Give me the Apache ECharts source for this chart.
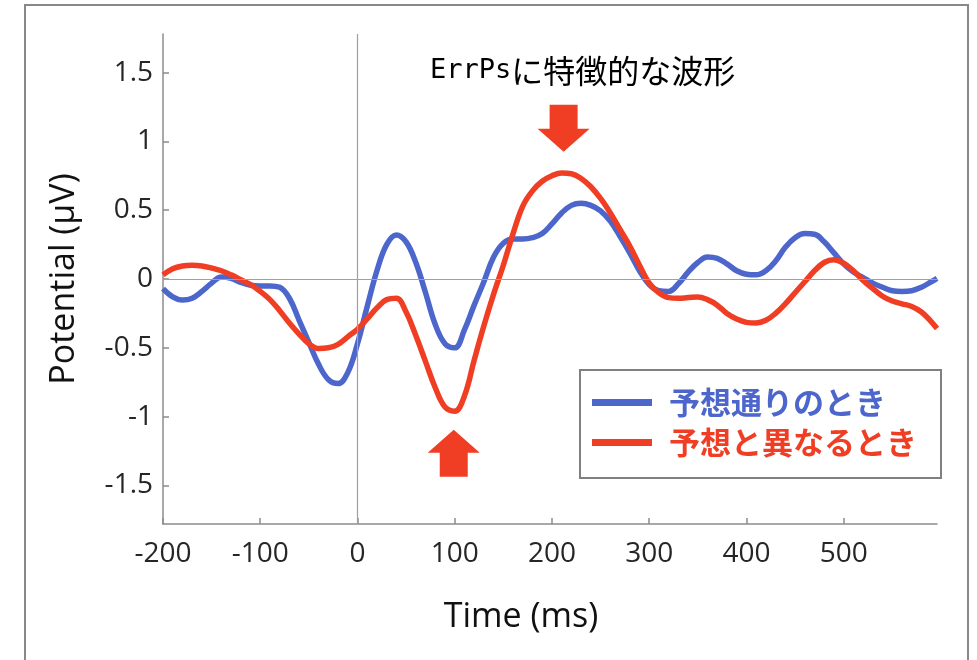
<!DOCTYPE html>
<html>
<head>
<meta charset="utf-8">
<script src="https://cdn.jsdelivr.net/npm/echarts@6/dist/echarts.min.js"></script>
<style>
html,body{margin:0;padding:0;background:#fff;}
#chart{width:977px;height:660px;}
</style>
</head>
<body>
<div id="chart"></div>
<script>
// ---- data ----
const timeMs = [-200,-190,-180,-170,-160,-150,-140,-130,-120,-110,-100,-90,-80,-70,-60,-50,-40,-30,-20,-10,
  0,10,20,30,40,50,60,70,80,90,100,110,120,130,140,150,160,170,180,190,
  200,210,220,230,240,250,260,270,280,290,300,310,320,330,340,350,360,370,380,390,
  400,410,420,430,440,450,460,470,480,490,500,510,520,530,540,550,560,570,580,590,596];
const expectedValues = [-0.07,-0.13,-0.153,-0.14,-0.09,-0.03,0.015,0.005,-0.025,-0.045,-0.05,-0.05,-0.06,-0.14,-0.30,-0.46,-0.62,-0.73,-0.76,-0.68,
  -0.47,-0.20,0.06,0.25,0.32,0.27,0.12,-0.10,-0.33,-0.47,-0.50,-0.37,-0.19,-0.02,0.16,0.26,0.29,0.29,0.30,0.33,
  0.40,0.48,0.535,0.55,0.535,0.495,0.42,0.31,0.19,0.06,-0.04,-0.085,-0.09,-0.035,0.05,0.12,0.16,0.15,0.11,0.06,
  0.035,0.03,0.06,0.13,0.23,0.30,0.33,0.325,0.27,0.19,0.11,0.05,0.01,-0.03,-0.06,-0.085,-0.09,-0.085,-0.06,-0.02,0.005];
const unexpectedValues = [0.03,0.075,0.095,0.10,0.095,0.08,0.06,0.03,-0.005,-0.04,-0.09,-0.15,-0.23,-0.32,-0.40,-0.47,-0.505,-0.50,-0.475,-0.42,
  -0.365,-0.29,-0.21,-0.15,-0.14,-0.24,-0.41,-0.60,-0.79,-0.93,-0.96,-0.85,-0.59,-0.34,-0.11,0.10,0.33,0.53,0.64,0.71,
  0.75,0.77,0.765,0.73,0.67,0.585,0.48,0.36,0.24,0.10,-0.03,-0.10,-0.135,-0.14,-0.135,-0.13,-0.15,-0.19,-0.25,-0.29,
  -0.315,-0.32,-0.30,-0.25,-0.18,-0.10,-0.02,0.06,0.12,0.14,0.115,0.06,-0.01,-0.07,-0.125,-0.16,-0.18,-0.20,-0.24,-0.31,-0.36];
const xTicks = [-200,-100,0,100,200,300,400,500];
const yTicks = [-1.5,-1,-0.5,0,0.5,1,1.5];
const seriesNames = ['予想通りのとき','予想と異なるとき'];
const annotationText = 'ErrPsに特徴的な波形';
// arrow tips in data coordinates [time, potential]
const arrowDownTip = [212, 0.925];
const arrowUpTip = [99, -1.095];

const BLUE = '#4c66cc';
const RED = '#f03e24';
const AX = '#8c8c8c';
const TXT = '#262626';

const chart = echarts.init(document.getElementById('chart'));
const pairs = vals => timeMs.map((t,i)=>[t, vals[i]]);

const option = {
  animation:false,
  backgroundColor:'#fff',
  grid:{left:163, right:40, top:34, bottom:136, containLabel:false},
  xAxis:{
    type:'value', min:-200, max:596,
    name:'Time (ms)', nameLocation:'middle', nameGap:76,
    nameTextStyle:{fontFamily:'Open Sans', fontSize:34, color:'#111', padding:[0,58,0,0]},
    axisLine:{show:true, onZero:false, lineStyle:{color:AX, width:1.5}},
    axisTick:{show:true, inside:true, length:6, lineStyle:{color:AX, width:1.5}, customValues:xTicks},
    axisLabel:{fontFamily:'Open Sans', fontSize:28, color:TXT, margin:16, customValues:xTicks},
    splitLine:{show:false}
  },
  yAxis:{
    type:'value', min:-1.78, max:1.78,
    name:'Potential (μV)', nameLocation:'middle', nameGap:82,
    nameTextStyle:{fontFamily:'Open Sans', fontSize:34, color:'#111'},
    axisLine:{show:true, onZero:false, lineStyle:{color:AX, width:1.5}},
    axisTick:{show:true, inside:true, length:6, lineStyle:{color:AX, width:1.5}, customValues:yTicks},
    axisLabel:{fontFamily:'Open Sans', fontSize:28, color:TXT, margin:10, customValues:yTicks,
      formatter:v=>String(v)},
    splitLine:{show:false}
  },
  legend:{
    orient:'vertical', left:580, top:370,
    padding:[17,24,20,12],
    itemGap:9, itemWidth:60, itemHeight:7, icon:'rect',
    borderColor:'#808080', borderWidth:2, backgroundColor:'#fff',
    textStyle:{fontFamily:'Noto Sans CJK JP', fontSize:31, fontWeight:'bold', padding:[0,0,0,12]},
    data:[
      {name:seriesNames[0], textStyle:{color:BLUE}},
      {name:seriesNames[1], textStyle:{color:RED}}
    ]
  },
  series:[
    {
      name:seriesNames[0], type:'line', data:pairs(expectedValues),
      smooth:0.4, symbol:'none', z:3,
      lineStyle:{color:BLUE, width:5.5}, itemStyle:{color:BLUE},
      markLine:{
        silent:true, symbol:'none', label:{show:false},
        lineStyle:{color:'#a0a0a0', width:1.2, type:'solid'},
        data:[{xAxis:0},{yAxis:0}]
      }
    },
    {
      name:seriesNames[1], type:'line', data:pairs(unexpectedValues),
      smooth:0.4, symbol:'none', z:4,
      lineStyle:{color:RED, width:5.5}, itemStyle:{color:RED}
    }
  ]
};
chart.setOption(option);

// annotations positioned from data coordinates
const dTip = chart.convertToPixel({gridIndex:0}, arrowDownTip);
const uTip = chart.convertToPixel({gridIndex:0}, arrowUpTip);
function arrowPoints(tip, dir){ // dir=1 pointing down, -1 pointing up
  const x=tip[0], y=tip[1];
  const hw=26, hh=23, sw=14, sl=24;
  return [
    [x, y],
    [x-hw, y-dir*hh],
    [x-sw, y-dir*hh],
    [x-sw, y-dir*(hh+sl)],
    [x+sw, y-dir*(hh+sl)],
    [x+sw, y-dir*hh],
    [x+hw, y-dir*hh]
  ];
}
chart.setOption({
  graphic:[
    {type:'rect', shape:{x:25, y:5, width:943, height:700}, style:{fill:'none', stroke:'#888', lineWidth:2}, silent:true, z:-1},
    {type:'polygon', shape:{points:arrowPoints(dTip,1)}, style:{fill:RED}, silent:true, z:10},
    {type:'polygon', shape:{points:arrowPoints(uTip,-1)}, style:{fill:RED}, silent:true, z:10},
    {type:'text', left:430, top:55, z:10, silent:true,
      style:{
        text:'{a|ErrPs}{b|' + annotationText.slice(5) + '}',
        rich:{
          a:{fontFamily:'DejaVu Sans Mono', fontSize:27, fill:'#000', color:'#000'},
          b:{fontFamily:'Noto Sans CJK JP', fontSize:32, fill:'#000', color:'#000'}
        }
      }
    }
  ]
});
</script>
</body>
</html>
